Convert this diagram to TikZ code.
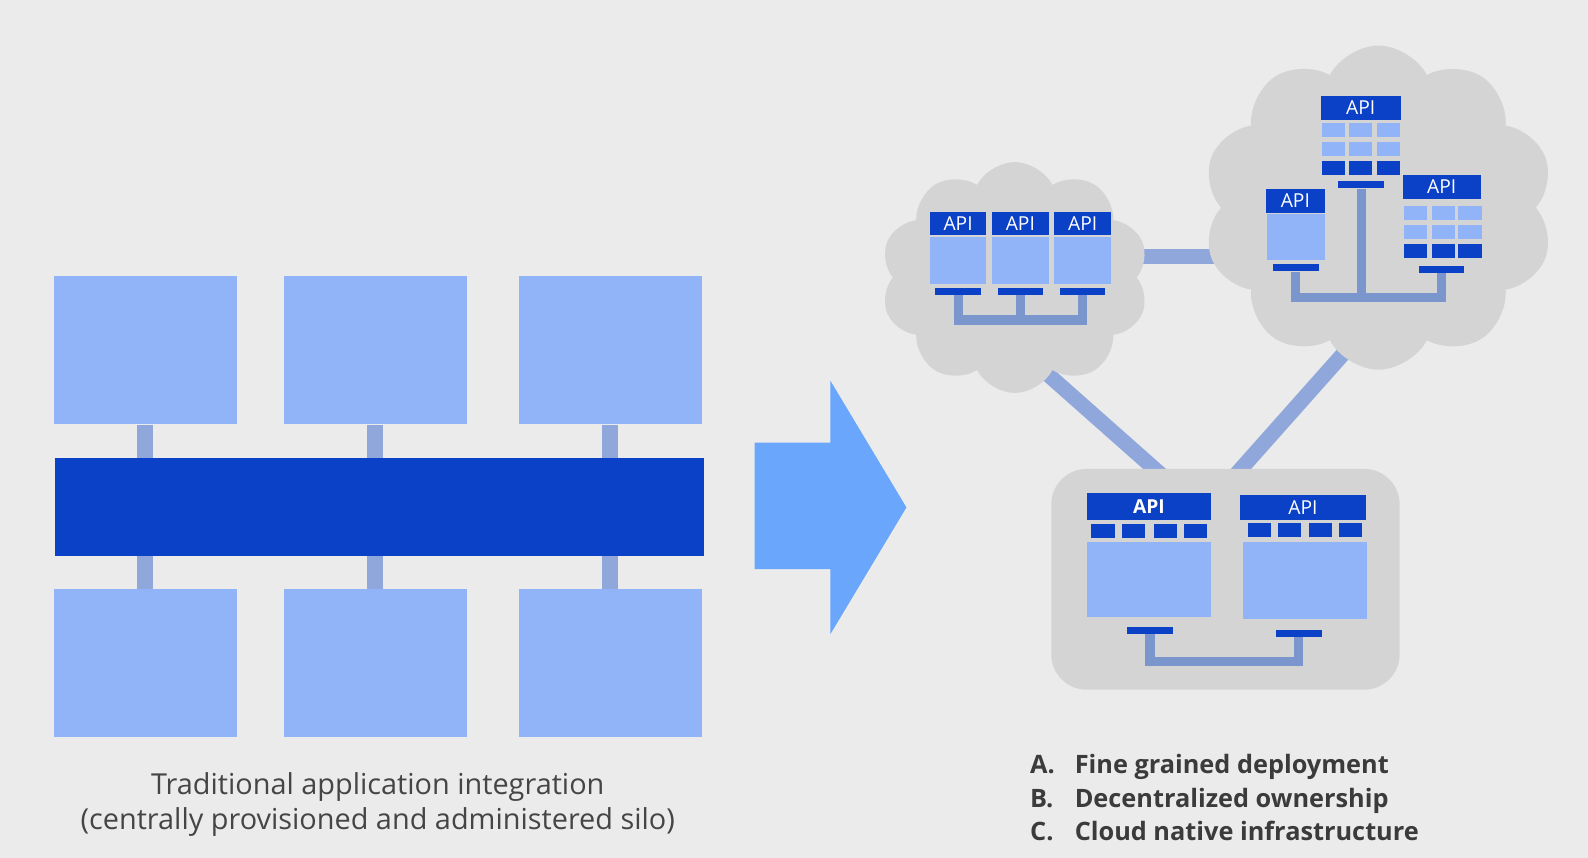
\documentclass[tikz,border=0pt]{standalone}
\usepackage{fontspec}
\setmainfont{Open Sans}
\usepackage{xcolor}
\usetikzlibrary{positioning,shapes.symbols}
\definecolor{mybg}{HTML}{EBEBEB}
\definecolor{mylight}{HTML}{91B3F8}
\definecolor{mydark}{HTML}{0B41C7}
\definecolor{mystem}{HTML}{8FA7DB}
\definecolor{mywire}{HTML}{7B96CC}
\definecolor{myarrow}{HTML}{69A6FC}
\definecolor{mycloud}{HTML}{D4D4D4}
\definecolor{mytext}{HTML}{454545}
\tikzset{
  app/.style={fill=mylight,inner sep=0,minimum width=181,minimum height=146},
  bus/.style={fill=mydark,inner sep=0,minimum width=641,minimum height=97},
  stem/.style={draw=mystem,line width=16},
  link/.style={draw=mystem,line width=15},
  wire/.style={draw=mywire,line width=9},
  cloudy/.style={cloud,cloud puffs=10,cloud puff arc=125,fill=mycloud,inner sep=0},
  api head/.style={fill=mydark,text=white,inner sep=0,minimum height=23,
                   font=\fontsize{19}{19}\selectfont},
  api body/.style={fill=mylight,inner sep=0},
  cell/.style={fill=mylight,inner sep=0,minimum width=23,minimum height=14},
  cell dark/.style={cell,fill=mydark},
  stub/.style={fill=mydark,inner sep=0,minimum width=45,minimum height=7},
  caption/.style={text=mytext,inner sep=0,anchor=base,font=\fontsize{28.5}{28.5}\selectfont},
  item/.style={text=mytext!85!black,inner sep=0,anchor=base west,
               font=\fontsize{25}{25}\selectfont\bfseries}
}
\begin{document}
\begin{tikzpicture}[x=1pt,y=-1pt]
  \useasboundingbox (0,0) rectangle (1568,847);
  \fill[mybg] (0,0) rectangle (1568,847);

  % Draw bus and application boxes
  \node[bus] (bus) at (374.5,500.5) {};
  \foreach \x [count=\i] in {143.5,370.5,602.5}{%
    \node[app] (t\i) at (\x,346) {};
    \node[app] (b\i) at (\x,655) {};
    \draw[stem] (t\i.south) -- (t\i.south |- bus.north);
    \draw[stem] (b\i.north) -- (b\i.north |- bus.south);
  }
  \node[caption] (cap1) at (373,784) {Traditional application integration};
  \node[caption] (cap2) at (373,819) {(centrally provisioned and administered silo)};

  % Big arrow
  \fill[myarrow] (745,437) -- (820,437) -- (820,376) -- (895,501)
                 -- (820,626) -- (820,562) -- (745,562) -- cycle;

  % Links between clouds and hub (drawn first, clouds cover the ends)
  \coordinate (lkA) at (1000,339);
  \coordinate (lkB) at (1161,481.6);
  \coordinate (lkC) at (1348,325);
  \coordinate (lkD) at (1212,478);
  \coordinate (lkE) at (1110,253);
  \coordinate (lkF) at (1220,253);
  \draw[link] (lkA) -- (lkB);
  \draw[link] (lkC) -- (lkD);
  \draw[link] (lkE) -- (lkF);

  % Clouds and hub box
  \node[cloudy,aspect=1.16,minimum width=265,minimum height=228] (lc) at (1002,274) {};
  \node[cloudy,aspect=1.08,minimum width=347,minimum height=320] (rc) at (1361,205) {};
  \node[fill=mycloud,rounded corners=35,inner sep=0,
        minimum width=344,minimum height=218] (hub) at (1210,572) {};

  % Left cloud: three APIs
  \foreach \x [count=\i] in {946,1007.5,1069}{%
    \node[api head,minimum width=56] (lh\i) at (\x,220.5) {API};
    \node[api body,minimum width=56,minimum height=46] (lb\i) at (\x,257) {};
    \node[stub] (ls\i) at (\x,288) {};
  }
  \draw[wire] (ls1.south) |- (ls3.south |- 0,316) -- (ls3.south);
  \draw[wire] (ls2.south) -- (ls2.south |- 0,316);

  % Right cloud: top API with grid
  \node[api head,minimum width=79] (th) at (1343.5,106.5) {API};
  \foreach \y/\s [count=\r] in {128.5/cell,147/cell,166/cell dark}{%
    \foreach \x [count=\c] in {1316.5,1343.5,1371}{%
      \node[\s] (tg\r\c) at (\x,\y) {};
    }
  }
  \node[stub] (ts) at (1344,182.5) {};
  % left API
  \node[api head,minimum width=58] (ph) at (1279,198.5) {API};
  \node[api body,minimum width=57,minimum height=46] (pb) at (1279.5,234) {};
  \node[stub] (ps) at (1279.5,264.5) {};
  % right API with grid
  \node[api head,minimum width=77] (qh) at (1423.5,184.5) {API};
  \foreach \y/\s [count=\r] in {210.5/cell,229/cell,248/cell dark}{%
    \foreach \x [count=\c] in {1397.5,1425,1451.5}{%
      \node[\s] (qg\r\c) at (\x,\y) {};
    }
  }
  \node[stub] (qs) at (1423.5,266) {};
  \draw[wire] (ps.south) |- (qs.south |- 0,294) -- (qs.south);
  \draw[wire] (ts.south) -- (ts.south |- 0,294);

  % Hub: two APIs
  \node[api head,minimum width=123,minimum height=26,font=\fontsize{19}{19}\selectfont\bfseries]
       (hh1) at (1134.5,500) {API};
  \node[api head,minimum width=125,minimum height=24] (hh2) at (1286.5,501) {API};
  \foreach \x [count=\c] in {1089,1119.5,1150.5,1180.5}{%
    \node[cell dark] (hc1\c) at (\x,524) {};
  }
  \foreach \x [count=\c] in {1243.5,1273.5,1304,1333.5}{%
    \node[cell dark] (hc2\c) at (\x,523) {};
  }
  \node[api body,minimum width=123,minimum height=74] (hb1) at (1134.5,572) {};
  \node[api body,minimum width=123,minimum height=76] (hb2) at (1288.5,573) {};
  \node[stub] (hs1) at (1135.5,622.5) {};
  \node[stub] (hs2) at (1282.5,625.5) {};
  \draw[wire] (hs1.south) |- (hs2.south |- 0,653) -- (hs2.south);

  % Labels
  \foreach \l/\t [count=\i] in {A./Fine grained deployment,B./Decentralized ownership,C./Cloud native infrastructure}{%
    \node[item] (k\i) at (1017,731+33*\i) {\l};
    \node[item] (v\i) at (1061,731+33*\i) {\t};
  }
\end{tikzpicture}
\end{document}
